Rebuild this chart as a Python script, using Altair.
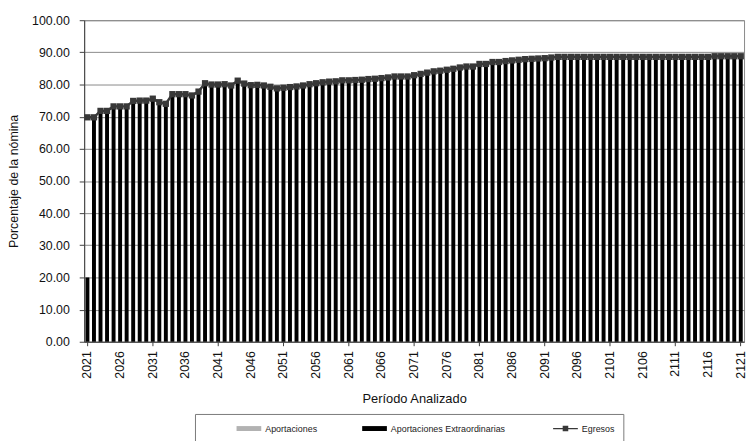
import altair as alt
import pandas as pd

# ---------------- data ----------------
years = [str(y) for y in range(2021, 2122)]

egresos = [
    69.8, 69.8, 71.8, 71.8, 73.2, 73.2, 73.2, 74.9, 75.0, 75.0,   # 2021-2030
    75.6, 74.5, 74.0, 77.0, 77.0, 77.0, 76.6, 77.8, 80.4, 80.0,   # 2031-2040
    80.0, 80.1, 79.7, 81.2, 80.3, 79.8, 79.9, 79.7, 79.3, 78.8,   # 2041-2050
    79.0, 79.2, 79.4, 79.7, 80.1, 80.4, 80.7, 80.9, 81.0, 81.3,   # 2051-2060
    81.3, 81.4, 81.5, 81.7, 81.8, 82.0, 82.2, 82.5, 82.5, 82.5,   # 2061-2070
    82.9, 83.3, 83.7, 84.1, 84.3, 84.6, 84.9, 85.3, 85.6, 85.6,   # 2071-2080
    86.4, 86.4, 87.0, 87.0, 87.3, 87.5, 87.7, 87.9, 88.0, 88.1,   # 2081-2090
    88.2, 88.4, 88.6, 88.6, 88.6, 88.6, 88.6, 88.6, 88.6, 88.6,   # 2091-2100
    88.6, 88.6, 88.6, 88.6, 88.6, 88.6, 88.6, 88.6, 88.6, 88.6,   # 2101-2110
    88.6, 88.6, 88.6, 88.6, 88.6, 88.6, 88.8, 88.8, 88.8, 88.8,   # 2111-2120
    88.8,                                                         # 2121
]
aportaciones = [0.0] * len(years)
extraordinarias = [20.0] + egresos[1:]

series_names = ["Aportaciones", "Aportaciones  Extraordinarias", "Egresos"]
series_colors = ["#b2b2b2", "#000000", "#383838"]
label_years = [str(y) for y in range(2021, 2122, 5)]
y_ticks = [0, 10, 20, 30, 40, 50, 60, 70, 80, 90, 100]

# ---------------- tables ----------------
bars_df = pd.DataFrame(
    {
        "year": years * 2,
        "serie": [series_names[0]] * len(years) + [series_names[1]] * len(years),
        "valor": aportaciones + extraordinarias,
        "orden": [0] * len(years) + [1] * len(years),
    }
)
line_df = pd.DataFrame({"year": years, "valor": egresos, "serie": series_names[2]})

FONT = "Liberation Sans"
# legend symbol shapes (wide swatch, and line with a square)
RECT = "M-2,-0.4H2V0.4H-2Z"
LINESQ = "M-2,-0.1H2V0.1H-2Z M-0.45,-0.45H0.45V0.45H-0.45Z"

x_axis = alt.Axis(
    values=label_years,
    labelAngle=270,
    labelFontSize=12.5,
    labelPadding=5,
    labelOverlap=False,
    tickSize=4,
    tickColor={
        "condition": {
            "test": "(toNumber(datum.value) - 2021) % 10 === 0",
            "value": "#404040",
        },
        "value": "rgba(0,0,0,0)",
    },
    title="Período Analizado",
    titleFontSize=13,
    titleFontWeight="normal",
    titlePadding=15,
)
x_scale = alt.Scale(paddingInner=0.4, paddingOuter=0.2)

y_axis = alt.Axis(
    values=y_ticks,
    format=".2f",
    labelFontSize=12.5,
    labelPadding=10,
    labelOverlap=False,
    tickSize=5,
    grid=True,
    gridColor="#8a8a8a",
    gridWidth=1,
    title="Porcentaje de la nómina",
    titleFontSize=12.5,
    titleFontWeight="normal",
    titlePadding=11,
)
y_scale = alt.Scale(domain=[0, 100])

color_scale = alt.Scale(domain=series_names, range=series_colors)
shape_scale = alt.Scale(domain=series_names, range=[RECT, RECT, LINESQ])


def make_legend():
    return alt.Legend(
        orient="none",
        legendX=112,
        legendY=398,
        direction="horizontal",
        columns=3,
        title=" ",
        titleOrient="left",
        titlePadding=40,
        titleFontSize=9,
        strokeColor="#7a7a7a",
        fillColor="#ffffff",
        labelFontSize=9,
        labelColor="#222222",
        labelOffset=10,
        columnPadding=45,
        symbolSize=156,
        symbolStrokeWidth=0,
    )


bars = alt.Chart(bars_df).mark_bar().encode(
    x=alt.X("year:O", scale=x_scale, axis=x_axis),
    y=alt.Y("valor:Q", stack="zero", scale=y_scale, axis=y_axis),
    color=alt.Color("serie:N", scale=color_scale, legend=make_legend()),
    order=alt.Order("orden:Q"),
)

line = alt.Chart(line_df).mark_line(color="#383838", strokeWidth=2.5).encode(
    x=alt.X("year:O", scale=x_scale, axis=x_axis),
    y=alt.Y("valor:Q", scale=y_scale, axis=y_axis),
)

markers = alt.Chart(line_df).mark_square(size=40, color="#383838", opacity=1).encode(
    x=alt.X("year:O", scale=x_scale, axis=x_axis),
    y=alt.Y("valor:Q", scale=y_scale, axis=y_axis),
)

# carries the legend entry shapes; the marks themselves are negligibly small
legend_carrier = alt.Chart(line_df).mark_point(filled=True, opacity=1, size=0.5).encode(
    x=alt.X("year:O", scale=x_scale, axis=x_axis),
    y=alt.Y("valor:Q", scale=y_scale, axis=y_axis),
    color=alt.Color("serie:N", scale=color_scale, legend=make_legend()),
    shape=alt.Shape("serie:N", scale=shape_scale, legend=make_legend()),
)

chart = (
    alt.layer(bars, line, markers, legend_carrier)
    .properties(
        width=667,
        height=325,
        autosize=alt.AutoSizeParams(type="none"),
        padding={"left": 77, "top": 10, "right": 4, "bottom": 100},
    )
    .configure(font=FONT)
    .configure_axis(
        labelFont=FONT,
        titleFont=FONT,
        labelColor="#111111",
        titleColor="#111111",
        domainColor="#404040",
        tickColor="#404040",
    )
    .configure_legend(labelFont=FONT, titleFont=FONT, padding=8)
    .configure_view(stroke="#8a8a8a")
)

chart.save("out.html", embed_options={"renderer": "svg", "actions": False})
